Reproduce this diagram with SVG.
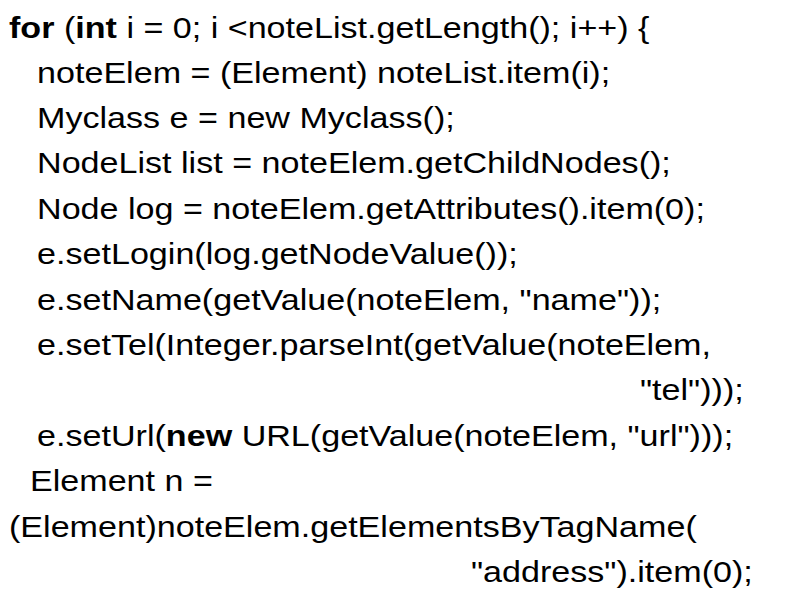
<svg xmlns="http://www.w3.org/2000/svg" width="800" height="600" viewBox="0 0 800 600">
<style>text{font-family:"Liberation Sans",Arial,sans-serif;font-size:29px;fill:#000;white-space:pre}.b{font-weight:bold}</style>
<rect width="800" height="600" fill="#fff"/>
<g id="code" transform="scale(1.176 1)">
<text x="7.65" y="38"><tspan class="b">for</tspan> (<tspan class="b">int</tspan> i = 0; i &lt;noteList.getLength(); i++) {</text>
<text x="31.5" y="83">noteElem = (Element) noteList.item(i);</text>
<text x="31.5" y="128">Myclass e = new Myclass();</text>
<text x="31.5" y="173">NodeList list = noteElem.getChildNodes();</text>
<text x="31.5" y="219">Node log = noteElem.getAttributes().item(0);</text>
<text x="31.5" y="264">e.setLogin(log.getNodeValue());</text>
<text x="31.5" y="310">e.setName(getValue(noteElem, "name"));</text>
<text x="31.5" y="355">e.setTel(Integer.parseInt(getValue(noteElem,</text>
<text x="544.2" y="400">"tel")));</text>
<text x="31.5" y="446">e.setUrl(<tspan class="b">new</tspan> URL(getValue(noteElem, "url")));</text>
<text x="25.5" y="491">Element n =</text>
<text x="7.65" y="537">(Element)noteElem.getElementsByTagName(</text>
<text x="400.5" y="582">"address").item(0);</text>
</g>
</svg>
